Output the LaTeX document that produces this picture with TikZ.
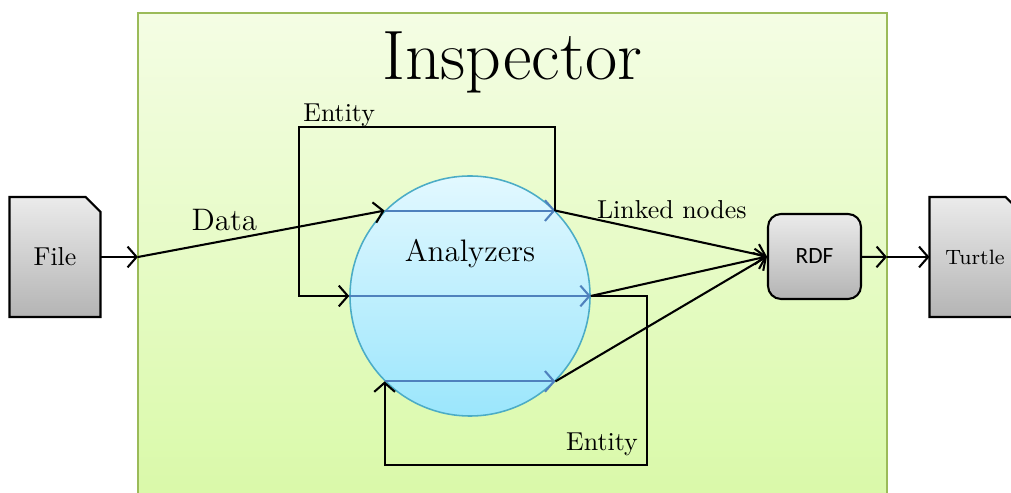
\documentclass[tikz,border=0pt]{standalone}
\usepackage{fontspec}
\usepackage{tikz}
\usetikzlibrary{calc,arrows,arrows.meta,backgrounds}
\newfontfamily\rdffont{Carlito}
\newcommand\unitpx{0.3861pt}
\definecolor{boxgreen}{HTML}{9BBB59}
\definecolor{boxtop}{HTML}{F4FDE4}
\definecolor{boxbottom}{HTML}{D8F9A6}
\definecolor{anaborder}{HTML}{4BACC6}
\definecolor{anatop}{HTML}{E2F8FF}
\definecolor{anabottom}{HTML}{9BE6FC}
\definecolor{flowblue}{HTML}{4F81BD}
\definecolor{greytop}{HTML}{EBEBEB}
\definecolor{greybottom}{HTML}{B4B4B4}

\begin{document}
\begin{tikzpicture}[x=\unitpx,y=-\unitpx,>={Straight Barb[length=3.5pt,width=8pt]}]
            \tikzset{doctext/.style={minimum width=90*\unitpx,minimum height=119*\unitpx,inner sep=0pt}};
            \tikzset{docshape/.style={draw,thick,top color=greytop,bottom color=greybottom}};
            \tikzset{rdfbox/.style={draw,thick,rounded corners=13*\unitpx,top color=greytop,bottom color=greybottom,
                minimum width=93*\unitpx,minimum height=85*\unitpx,font=\rdffont\small}};
            \tikzset{anabox/.style={circle,draw=anaborder,semithick,top color=anatop,bottom color=anabottom,
                minimum size=240*\unitpx,inner sep=0pt}};
            \tikzset{flow/.style={->,thick,flowblue}};
            \tikzset{link/.style={->,thick}};
            \useasboundingbox (0,0) rectangle (1011,493);

            \node[doctext] (file) at (55,257){File};
            \node[doctext,font=\footnotesize] (turtle) at (975,257){Turtle};
            \node[rdfbox] (rdf) at (814.5,256.5){RDF};
            \node[anabox] (ana) at (470,296){};
            \node[font=\large] (analbl) at (470,254){Analyzers};
            \node[font=\fontsize{27}{32}\selectfont] (title) at (512,62){Inspector};

            \coordinate (in) at (138,257);
            \coordinate (out) at (887,257);
            \coordinate (tl) at (299,127);
            \coordinate (br) at (647,465);

            \begin{scope}[on background layer]
              \shade[draw=boxgreen,thick,top color=boxtop,bottom color=boxbottom] (138,13) rectangle (887,520);
              \shade[docshape] (file.south west) -- (file.south east) -- ($(file.north east)+(0,15)$)
                  -- ($(file.north east)+(-15,0)$) -- (file.north west) -- cycle;
              \shade[docshape] (turtle.south west) -- (turtle.south east) -- ($(turtle.north east)+(0,15)$)
                  -- ($(turtle.north east)+(-15,0)$) -- (turtle.north west) -- cycle;
            \end{scope}

            \draw[flow] (ana.135) -- (ana.45);
            \draw[flow] (ana.west) -- (ana.east);
            \draw[flow] (ana.225) -- (ana.315);

            \draw[link] (file) -- (in);
            \draw[link] (in) -- node[above,pos=.35,font=\large]{Data} (ana.135);

            \draw[link] (ana.45) |- (tl) |- (ana.west);
            \node[anchor=south west,inner sep=0pt,xshift=1.5pt] (topent) at (tl){Entity};
            \draw[link] (ana.east) -| (br) -| (ana.225);
            \node[anchor=south east] (botent) at (br){Entity};

            \draw[link] (ana.45) -- node[above=3pt,pos=.55]{Linked nodes} (rdf.west);
            \draw[link] (ana.east) -- (rdf.west);
            \draw[link] (ana.315) -- (rdf.west);

            \draw[link] (rdf) -- (out);
            \draw[link] (out) -- (turtle);
          \end{tikzpicture}
\end{document}
